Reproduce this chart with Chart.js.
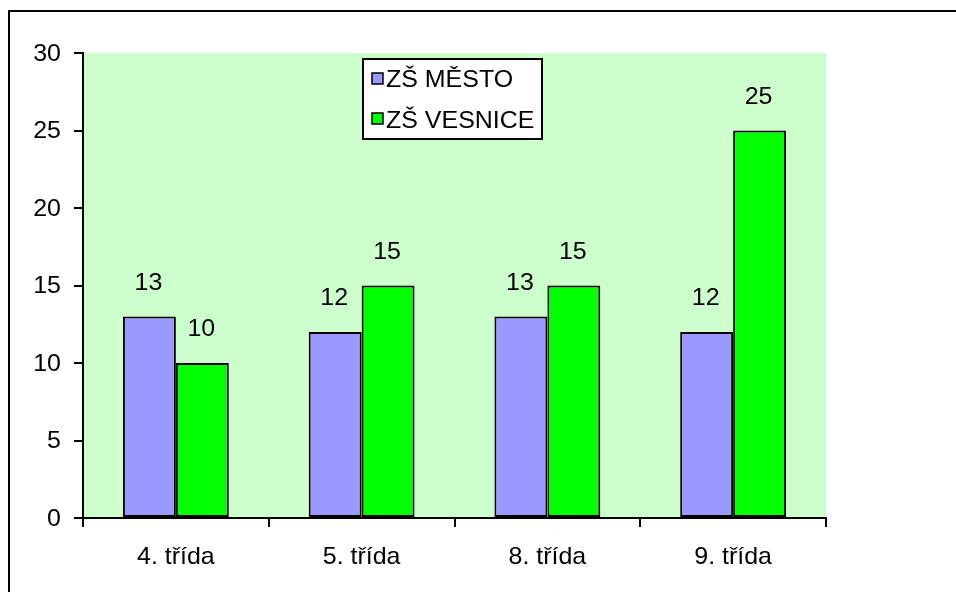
<!DOCTYPE html>
<html><head><meta charset="utf-8">
<script src="https://cdn.jsdelivr.net/npm/chart.js@4"></script>
<style>html,body{margin:0;padding:0;background:#fff;}#wrap{width:956px;height:592px;}</style>
</head><body><div id="wrap"><canvas id="c" width="956" height="592"></canvas></div>
<script>
const categories = ["4. třída", "5. třída", "8. třída", "9. třída"];
const mestoValues = [13, 12, 13, 12];
const vesniceValues = [10, 15, 15, 25];
const seriesNames = ["ZŠ MĚSTO", "ZŠ VESNICE"];
const yTicks = [0, 5, 10, 15, 20, 25, 30];

const FONT = '24px "Liberation Sans", Arial, sans-serif';
const SX = 1.04;

function wideText(ctx, text, x, y, align, baseline) {
  ctx.save();
  ctx.translate(x, y);
  ctx.scale(SX, 1);
  ctx.font = FONT;
  ctx.fillStyle = '#000';
  ctx.textAlign = align;
  ctx.textBaseline = baseline;
  ctx.fillText(text, 0, 0);
  ctx.restore();
}

const bgPlugin = {
  id: 'bg',
  beforeDraw(chart) {
    const {ctx, chartArea: a} = chart;
    ctx.save();
    ctx.fillStyle = '#fff';
    ctx.fillRect(0, 0, chart.width, chart.height);
    ctx.fillStyle = '#CCFFCC';
    ctx.fillRect(a.left, a.top, a.right - a.left, a.bottom - a.top);
    ctx.fillStyle = '#000';
    ctx.fillRect(8, 10, chart.width - 8, 2);
    ctx.fillRect(8, 10, 2, chart.height - 10);
    ctx.restore();
  },
  afterDatasetsDraw(chart) {
    const ctx = chart.ctx;
    chart.data.datasets.forEach((ds, i) => {
      chart.getDatasetMeta(i).data.forEach((bar, j) => {
        wideText(ctx, String(ds.data[j]), bar.x - 1, bar.y - 27, 'center', 'alphabetic');
      });
    });
  },
  afterDraw(chart) {
    const ctx = chart.ctx;
    const xs = chart.scales.x, ys = chart.scales.y;
    yTicks.forEach(v => {
      wideText(ctx, String(v), 61, ys.getPixelForValue(v) + 1, 'right', 'middle');
    });
    categories.forEach((c, i) => {
      wideText(ctx, c, xs.getPixelForValue(i), 564, 'center', 'alphabetic');
    });
    ctx.save();
    ctx.fillStyle = '#fff';
    ctx.fillRect(363, 59, 179, 80);
    ctx.strokeStyle = '#000';
    ctx.lineWidth = 2;
    ctx.strokeRect(363, 59, 179, 80);
    ctx.restore();
    const rows = [[73, 87], [113, 128]];
    chart.data.datasets.forEach((ds, i) => {
      const [my, by] = rows[i];
      ctx.save();
      ctx.fillStyle = ds.backgroundColor;
      ctx.fillRect(372, my, 11, 11);
      ctx.lineWidth = 1.5;
      ctx.strokeStyle = '#000';
      ctx.strokeRect(372, my, 11, 11);
      ctx.restore();
      wideText(ctx, ds.label, 386, by, 'left', 'alphabetic');
    });
  }
};

new Chart(document.getElementById('c'), {
  type: 'bar',
  data: {
    labels: categories,
    datasets: [
      {label: seriesNames[0], data: mestoValues, backgroundColor: '#9999FF', borderColor: '#000', borderWidth: 2, borderSkipped: false},
      {label: seriesNames[1], data: vesniceValues, backgroundColor: '#00FF00', borderColor: '#000', borderWidth: 2, borderSkipped: false}
    ]
  },
  options: {
    responsive: false,
    animation: false,
    events: [],
    datasets: {bar: {categoryPercentage: 0.57, barPercentage: 1}},
    layout: {padding: {left: 10, top: 53, right: 130, bottom: 20}},
    plugins: {legend: {display: false}, tooltip: {enabled: false}},
    scales: {
      x: {
        offset: true,
        grid: {offset: true, drawOnChartArea: false, drawTicks: true, tickLength: 9, color: '#000', lineWidth: 2},
        border: {display: true, color: '#000', width: 2},
        ticks: {display: false},
        afterFit(s) { s.height = 54; }
      },
      y: {
        min: 0, max: 30,
        afterBuildTicks(s) { s.ticks = yTicks.map(v => ({value: v})); },
        grid: {drawOnChartArea: false, drawTicks: true, tickLength: 9, color: '#000', lineWidth: 2},
        border: {display: true, color: '#000', width: 2},
        ticks: {display: false},
        afterFit(s) { s.width = 73; }
      }
    }
  },
  plugins: [bgPlugin]
});
</script>
</body></html>
